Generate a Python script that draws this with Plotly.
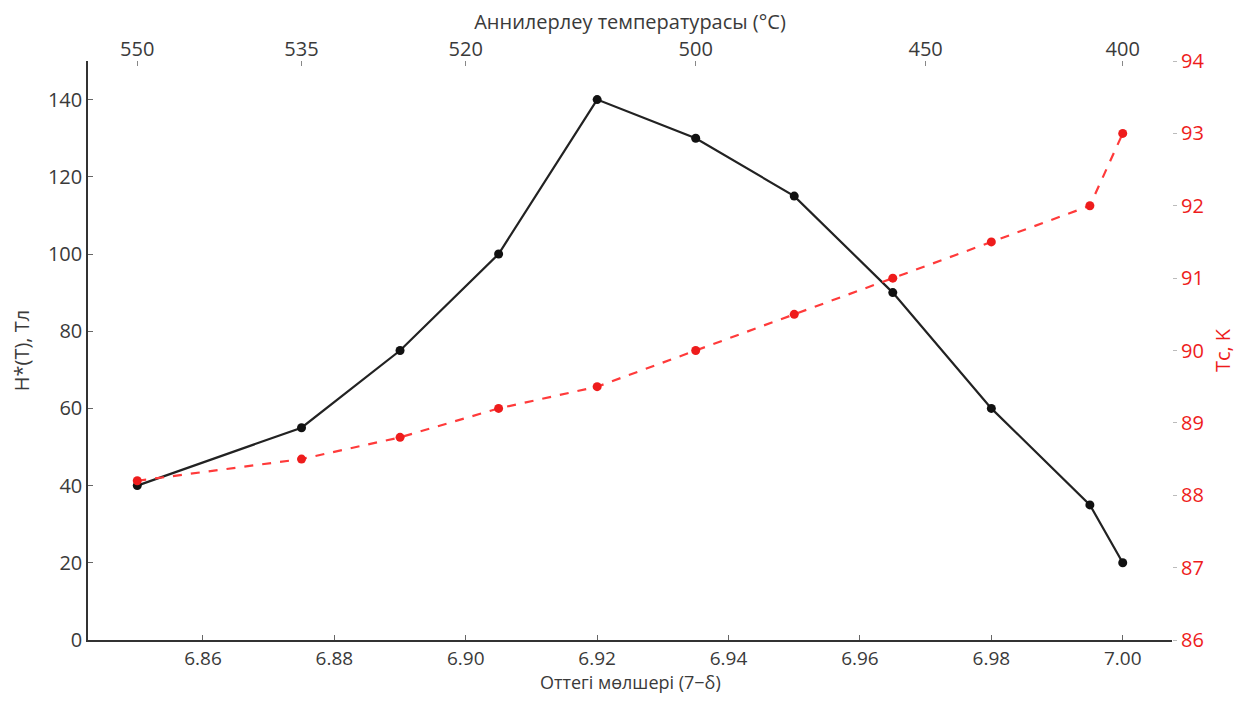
import plotly.graph_objects as go

oxygen = [6.85, 6.875, 6.89, 6.905, 6.92, 6.935, 6.95, 6.965, 6.98, 6.995, 7.00]
h_star = [40, 55, 75, 100, 140, 130, 115, 90, 60, 35, 20]
tc = [88.2, 88.5, 88.8, 89.2, 89.5, 90.0, 90.5, 91.0, 91.5, 92.0, 93.0]

bottom_ticks = [6.86, 6.88, 6.90, 6.92, 6.94, 6.96, 6.98, 7.00]
anneal_pos = [6.85, 6.875, 6.90, 6.935, 6.97, 7.00]
anneal_temps = ["550", "535", "520", "500", "450", "400"]

FONT = "Open Sans"
GRAY = "#3a3a3a"
RED = "#ee1c1c"
FS = 20

fig = go.Figure()
fig.add_trace(go.Scatter(x=oxygen, y=h_star, mode="lines+markers",
                         line=dict(color="#222222", width=2.2),
                         marker=dict(color="#111111", size=9),
                         xaxis="x", yaxis="y", showlegend=False))
fig.add_trace(go.Scatter(x=oxygen, y=tc, mode="lines+markers",
                         line=dict(color="#ff3a3a", width=2.2, dash="dash"),
                         marker=dict(color=RED, size=9),
                         xaxis="x", yaxis="y2", showlegend=False))
# invisible trace to activate top axis
fig.add_trace(go.Scatter(x=[oxygen[0], oxygen[-1]], y=[None, None], mode="markers",
                         xaxis="x2", yaxis="y", showlegend=False, hoverinfo="skip"))

xr = [6.8425, 7.0075]
fig.update_layout(
    width=1229, height=688,
    margin=dict(l=80, r=65, t=53, b=56),
    paper_bgcolor="white", plot_bgcolor="white",
    font=dict(family=FONT, size=FS, color=GRAY),
    xaxis=dict(range=xr, tickvals=bottom_ticks, automargin=False,
               ticktext=[f"{v:.2f}" for v in bottom_ticks],
               tickfont=dict(size=19),
               showgrid=False, zeroline=False, showline=True, linecolor="#333333", linewidth=1.5,
               ticks="inside", ticklen=5, tickcolor="#666666"),
    xaxis2=dict(range=xr, overlaying="x", side="top", tickvals=anneal_pos, ticktext=anneal_temps,
                automargin=False,
                showgrid=False, zeroline=False, showline=False,
                ticks="inside", ticklen=5, tickcolor="#888888",
                title=dict(text="Аннилерлеу температурасы (°C)", standoff=0, font=dict(size=FS))),
    yaxis=dict(range=[0, 150], tickvals=list(range(0, 141, 20)), automargin=False,
               showgrid=False, zeroline=False, showline=True, linecolor="#333333", linewidth=1.5,
               ticks="inside", ticklen=5, tickcolor="#666666",
               title=dict(text="H*(T), Тл", standoff=14, font=dict(size=FS))),
    yaxis2=dict(range=[86, 94], tickvals=list(range(86, 95)), overlaying="y", side="right",
                automargin=False,
                showgrid=False, zeroline=False, showline=False,
                ticks="outside", ticklen=4, tickcolor="#bbbbbb",
                tickfont=dict(color=RED, size=FS),
                title=dict(text="Tc, K", standoff=12, font=dict(color=RED, size=FS))),
    annotations=[dict(text="Оттегі мөлшері (7−δ)", xref="paper", yref="paper",
                      x=0.5, y=-0.073, xanchor="center", yanchor="middle",
                      showarrow=False, font=dict(size=18, color=GRAY))],
)

fig.write_html("out.html")
